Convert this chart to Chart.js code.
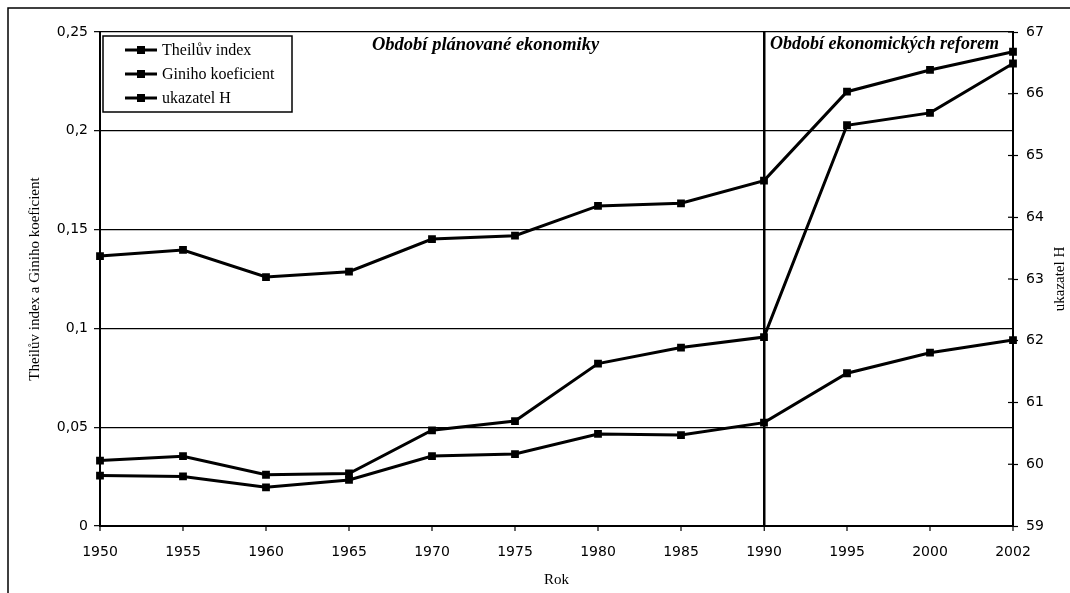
<!DOCTYPE html>
<html>
<head>
<meta charset="utf-8">
<script src="https://cdn.jsdelivr.net/npm/chart.js@4/dist/chart.umd.min.js"></script>
<style>
  html, body { margin: 0; padding: 0; background: #fff; }
  #wrap { width: 1070px; height: 593px; position: relative; }
</style>
</head>
<body>
<div id="wrap"><canvas id="c" width="1070" height="593"></canvas></div>
<script>
// ---- data ----
const years = ['1950','1955','1960','1965','1970','1975','1980','1985','1990','1995','2000','2002'];
const theil = [0.0255, 0.0251, 0.0196, 0.0233, 0.0354, 0.0364, 0.0466, 0.0460, 0.0523, 0.0773, 0.0877, 0.0941];
const gini  = [0.1366, 0.1397, 0.1260, 0.1287, 0.1452, 0.1469, 0.1620, 0.1633, 0.1748, 0.2198, 0.2308, 0.2400];
const ukazatelH = [60.06, 60.13, 59.83, 59.85, 60.55, 60.70, 61.63, 61.89, 62.06, 65.49, 65.69, 66.49];
const seriesNames = ['Theilův index', 'Giniho koeficient', 'ukazatel H'];
const leftTitle = 'Theilův index a Giniho koeficient';
const rightTitle = 'ukazatel H';
const xTitle = 'Rok';
const periodLabels = ['Období plánované ekonomiky', 'Období ekonomických reforem'];
const reformYear = '1990';

Chart.defaults.color = '#000';
Chart.defaults.font.family = '"DejaVu Sans", sans-serif';

const serif = '"Liberation Serif", "Times New Roman", serif';

const ds = (label, data, axis) => ({
  label, data, yAxisID: axis,
  borderColor: '#000', backgroundColor: '#000',
  borderWidth: 3, pointStyle: 'rect', pointRadius: 5.5,
  pointBorderWidth: 0, pointBackgroundColor: '#000', tension: 0
});

const decor = {
  id: 'decor',
  afterDraw(chart) {
    const ctx = chart.ctx;
    const a = chart.chartArea;
    ctx.save();
    // outer frame
    ctx.strokeStyle = '#000';
    ctx.lineWidth = 1.5;
    ctx.beginPath();
    ctx.moveTo(8, 600); ctx.lineTo(8, 8); ctx.lineTo(1075, 8);
    ctx.stroke();

    // right axis inner tick halves
    const y1 = chart.scales.y1;
    ctx.lineWidth = 1.2;
    y1.ticks.forEach((t) => {
      const py = y1.getPixelForValue(t.value);
      ctx.beginPath(); ctx.moveTo(a.right - 5, py); ctx.lineTo(a.right, py); ctx.stroke();
    });

    // period labels
    ctx.fillStyle = '#000';
    ctx.textBaseline = 'alphabetic';
    ctx.textAlign = 'left';
    ctx.font = 'italic bold 18.5px ' + serif;
    ctx.fillText(periodLabels[0], 372, 50);
    ctx.font = 'italic bold 18px ' + serif;
    ctx.fillText(periodLabels[1], chart.scales.x.getPixelForValue(reformYear) + 6, 49);

    // legend
    const lx = 103, ly = 36, lw = 189, lh = 76;
    ctx.lineWidth = 1.5;
    ctx.strokeRect(lx, ly, lw, lh);
    ctx.font = '16px ' + serif;
    ctx.textBaseline = 'middle';
    const rows = [50, 74, 98];
    seriesNames.forEach((n, i) => {
      const ry = rows[i];
      ctx.lineWidth = 3;
      ctx.beginPath(); ctx.moveTo(125, ry); ctx.lineTo(157, ry); ctx.stroke();
      ctx.fillRect(141 - 4, ry - 4, 8, 8);
      ctx.fillText(n, 162, ry + 1);
    });

    // right axis title (reads bottom-to-top)
    ctx.translate(1060, (a.top + a.bottom) / 2);
    ctx.rotate(-Math.PI / 2);
    ctx.textAlign = 'center';
    ctx.font = '15px ' + serif;
    ctx.fillText(rightTitle, 0, 0);
    ctx.restore();
  }
};

new Chart(document.getElementById('c'), {
  type: 'line',
  data: {
    labels: years,
    datasets: [
      ds(seriesNames[0], theil, 'y'),
      ds(seriesNames[1], gini, 'y'),
      ds(seriesNames[2], ukazatelH, 'y1')
    ]
  },
  options: {
    responsive: false,
    animation: false,
    layout: { padding: { top: 32, left: 0, right: 0, bottom: 0 } },
    plugins: { legend: { display: false }, tooltip: { enabled: false } },
    scales: {
      x: {
        offset: false,
        grid: {
          drawOnChartArea: true,
          color: '#000',
          lineWidth: (c) => (c.tick && c.tick.label === reformYear) ? 2.5 : 0,
          tickLength: 5, tickWidth: 1.2, tickColor: '#000'
        },
        border: { color: '#000', width: 2 },
        ticks: { font: { size: 14 }, padding: 13, maxRotation: 0, autoSkip: false },
        title: { display: true, text: xTitle, font: { family: serif, size: 15 }, padding: { top: 0, bottom: 4 } },
        afterFit: (s) => { s.height = 67; }
      },
      y: {
        position: 'left',
        min: 0, max: 0.25,
        ticks: {
          stepSize: 0.05, font: { size: 14 }, padding: 6,
          callback: (v) => (Math.round(v * 100) / 100).toString().replace('.', ',')
        },
        grid: { color: '#000', lineWidth: 1.3, tickLength: 6, tickColor: '#000', tickWidth: 1.2 },
        border: { color: '#000', width: 2 },
        title: { display: true, text: leftTitle, font: { family: serif, size: 15 }, padding: { top: 26, bottom: 0 } },
        afterFit: (s) => { s.width = 100; }
      },
      y1: {
        position: 'right',
        min: 59, max: 67,
        ticks: { stepSize: 1, font: { size: 14 }, padding: 8 },
        grid: { drawOnChartArea: false, tickLength: 5, tickColor: '#000', tickWidth: 1.2 },
        border: { color: '#000', width: 2 },
        afterFit: (s) => { s.width = 57; }
      }
    }
  },
  plugins: [decor]
});
</script>
</body>
</html>
